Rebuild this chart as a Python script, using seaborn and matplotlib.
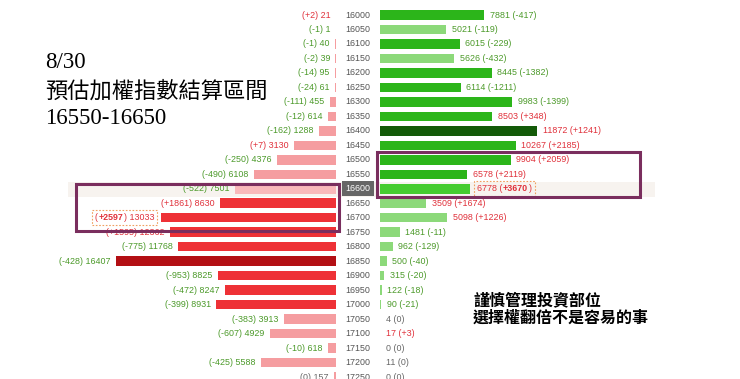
import pandas as pd
import matplotlib
matplotlib.use("Agg")
import matplotlib.pyplot as plt
import matplotlib.patches as mpatches
from matplotlib.transforms import blended_transform_factory
from matplotlib.offsetbox import AnnotationBbox, HPacker, TextArea
import seaborn as sns

strikes = [16000, 16050, 16100, 16150, 16200, 16250, 16300, 16350, 16400, 16450,
           16500, 16550, 16600, 16650, 16700, 16750, 16800, 16850, 16900, 16950,
           17000, 17050, 17100, 17150, 17200, 17250]
put_oi = [21, 1, 40, 39, 95, 61, 455, 614, 1288, 3130,
          4376, 6108, 7501, 8630, 13033, 12362, 11768, 16407, 8825, 8247,
          8931, 3913, 4929, 618, 5588, 157]
put_chg = [2, -1, -1, -2, -14, -24, -111, -12, -162, 7,
           -250, -490, -522, 1861, 2597, 1595, -775, -428, -953, -472,
           -399, -383, -607, -10, -425, 0]
call_oi = [7881, 5021, 6015, 5626, 8445, 6114, 9983, 8503, 11872, 10267,
           9904, 6578, 6778, 3509, 5098, 1481, 962, 500, 315, 122,
           90, 4, 17, 0, 11, 0]
call_chg = [-417, -119, -229, -432, -1382, -1211, -1399, 348, 1241, 2185,
            2059, 2119, 3670, 1674, 1226, -11, -129, -40, -20, -18,
            -21, 0, 3, 0, 0, 0]
current = 16600

df = pd.DataFrame({"strike": [str(s) for s in strikes], "put": put_oi, "put_chg": put_chg,
                   "call": call_oi, "call_chg": call_chg})

plt.rcParams["font.family"] = ["Liberation Sans", "DejaVu Sans"]

RED_TXT, GREEN_TXT, GRAY_TXT = "#e0303a", "#4c9a2a", "#666666"
cur_i = strikes.index(current)


def put_color(v, i):
    if v == max(put_oi):
        return "#b30f14"
    if v >= max(put_oi) / 2:
        return "#ee3136"
    return "#f9b8ba" if i == cur_i else "#f59da0"


def call_color(v, i):
    if v == max(call_oi):
        return "#135a08"
    if v >= max(call_oi) / 2:
        return "#45cc30" if i == cur_i else "#2cb51a"
    return "#8cd97a"


def chg_color(c):
    return RED_TXT if c > 0 else (GREEN_TXT if c < 0 else GRAY_TXT)


def fmt(c):
    return f"+{c}" if c > 0 else f"{c}"


put_pal = {s: put_color(v, i) for i, (s, v) in enumerate(zip(df["strike"], put_oi))}
call_pal = {s: call_color(v, i) for i, (s, v) in enumerate(zip(df["strike"], call_oi))}

W, H = 740, 379
fig = plt.figure(figsize=(7.4, 3.79), dpi=100)
axL = fig.add_axes([0, 0, 336 / W, 1])
axR = fig.add_axes([380 / W, 0, 360 / W, 1])

sns.barplot(data=df, y="strike", x="put", hue="strike", palette=put_pal, legend=False,
            orient="h", width=0.66, ax=axL, saturation=1)
sns.barplot(data=df, y="strike", x="call", hue="strike", palette=call_pal, legend=False,
            orient="h", width=0.66, ax=axR, saturation=1)

row0, step = 15, 14.48
ylim = ((H - row0) / step, -row0 / step)
for ax in (axL, axR):
    ax.set_ylim(*ylim)
    ax.axis("off")
    ax.patch.set_alpha(0)
axL.set_xlim(336 / 0.01341, 0)
axR.set_xlim(0, 360 / 0.01322)

# highlight band for current strike
bt = blended_transform_factory(fig.transFigure, axL.transData)
fig.add_artist(mpatches.Rectangle((68 / W, cur_i - 0.48), (655 - 68) / W, 1.02,
                                  transform=bt, fc="#f7f3ef", ec="none", zorder=-1))

max_put_chg = max(put_chg)
max_call_chg = max(call_chg)
fs = 6.4
dotted = dict(ec="#f0a060", fc="none", ls=(0, (1.5, 1.5)), lw=0.8)


def boxed_label(ax, parts, xy, dx, align):
    areas = [TextArea(t, textprops=dict(color=RED_TXT, fontsize=fs, weight=w)) for t, w in parts]
    pack = HPacker(children=areas, pad=0, sep=0.6, align="center")
    ab = AnnotationBbox(pack, xy, xybox=(dx, 0), xycoords="data", boxcoords="offset points",
                        box_alignment=(align, 0.5), frameon=True, pad=0.2, bboxprops=dotted)
    ax.add_artist(ab)


for i, s in enumerate(strikes):
    # put labels
    pc = put_chg[i]
    if pc == max_put_chg:
        boxed_label(axL, [("(", "normal"), (fmt(pc), "bold"), (f") {put_oi[i]}", "normal")],
                    (put_oi[i], i), -5, 1)
    else:
        axL.annotate(f"({fmt(pc)}) {put_oi[i]}", (put_oi[i], i), xytext=(-4, 0),
                     textcoords="offset points", ha="right", va="center", fontsize=fs,
                     color=chg_color(pc))
    # call labels
    cc = call_chg[i]
    if cc == max_call_chg:
        boxed_label(axR, [(f"{call_oi[i]} (", "normal"), (fmt(cc), "bold"), (")", "normal")],
                    (call_oi[i], i), 5, 0)
    else:
        axR.annotate(f"{call_oi[i]} ({fmt(cc)})", (call_oi[i], i), xytext=(4, 0),
                     textcoords="offset points", ha="left", va="center", fontsize=fs,
                     color=chg_color(cc))
    # strike labels
    if s == current:
        fig.text(358 / W, i, str(s), transform=bt, ha="center", va="center", fontsize=fs,
                 color="white",
                 bbox=dict(boxstyle="square,pad=0.35", fc="#666666", ec="none"))
    else:
        fig.text(358 / W, i, str(s), transform=bt, ha="center", va="center", fontsize=fs,
                 color="#555555")

# range boxes
frame = "#7a2e5e"
fig.add_artist(mpatches.Rectangle((76 / W, cur_i - 0.35), (339 - 76) / W, 3.3,
                                  transform=bt, fc="none", ec=frame, lw=2.2))
fig.add_artist(mpatches.Rectangle((377 / W, cur_i - 2.55), (640 - 377) / W, 3.15,
                                  transform=bt, fc="none", ec=frame, lw=2.2))

title_font = ["Liberation Serif", "Noto Sans CJK TC"]
fig.text(45 / W, 1 - 62 / H, "8/30", family=title_font, fontsize=16.5, va="center")
fig.text(45 / W, 1 - 92 / H, "預估加權指數結算區間", family=title_font, fontsize=16, va="center")
fig.text(45 / W, 1 - 118 / H, "16550-16650", family=title_font, fontsize=16.5, va="center")

note_font = ["Noto Sans CJK TC", "DejaVu Sans"]
fig.text(473 / W, 1 - 300 / H, "謹慎管理投資部位", family=note_font, fontsize=11.5,
         weight="bold", va="center")
fig.text(473 / W, 1 - 318 / H, "選擇權翻倍不是容易的事", family=note_font, fontsize=11.5,
         weight="bold", va="center")

fig.savefig("out.png", dpi=100, facecolor="white")
